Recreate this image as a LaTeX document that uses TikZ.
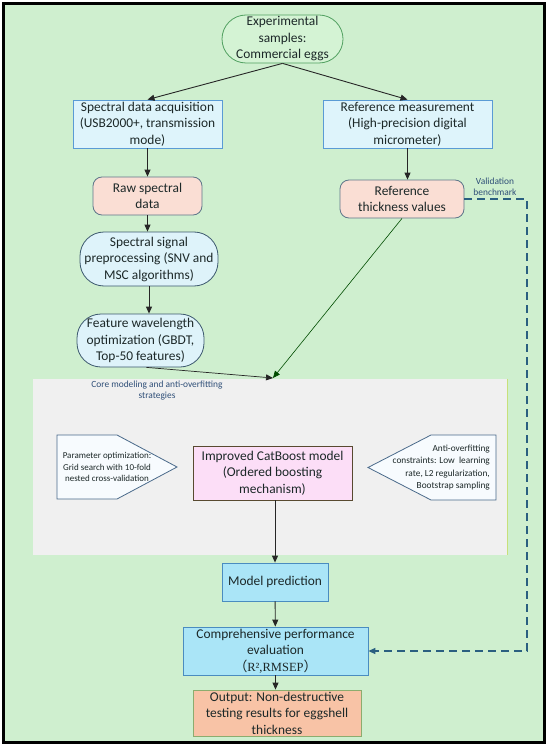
\documentclass[tikz,border=0pt]{standalone}
\usepackage{fontspec}
\setmainfont{Carlito}
\newfontfamily\serifx{Liberation Serif}
\newfontfamily\cjk{Noto Sans CJK SC}
\usepackage{xcolor}
\usepackage{tikz}
\usetikzlibrary{positioning,arrows.meta}
\definecolor{bggreen}{RGB}{207,239,207}
\definecolor{coregray}{RGB}{240,240,240}
\definecolor{textdark}{RGB}{28,40,40}
\definecolor{labelblue}{RGB}{47,79,120}
\definecolor{acqfill}{RGB}{222,244,251}
\definecolor{acqline}{RGB}{90,155,213}
\definecolor{rawfill}{RGB}{250,222,212}
\definecolor{rawline}{RGB}{94,118,138}
\definecolor{stadfill}{RGB}{222,243,250}
\definecolor{stadline}{RGB}{60,88,110}
\definecolor{samplefill}{RGB}{212,243,212}
\definecolor{sampleline}{RGB}{80,160,96}
\definecolor{catfill}{RGB}{252,222,247}
\definecolor{catline}{RGB}{88,74,48}
\definecolor{pentfill}{RGB}{247,251,254}
\definecolor{pentline}{RGB}{74,106,138}
\definecolor{predfill}{RGB}{170,229,247}
\definecolor{predline}{RGB}{74,140,192}
\definecolor{outfill}{RGB}{248,195,166}
\definecolor{outline}{RGB}{140,172,110}
\definecolor{edgeyellow}{RGB}{200,224,122}
\definecolor{validblue}{RGB}{42,95,128}

\begin{document}
\begin{tikzpicture}[x=1pt, y=-1pt,
  every node/.style={font=\fontsize{13.4}{16.5}\selectfont, text=textdark,
                     align=center, inner sep=0pt},
  acqbox/.style={rectangle, draw=acqline, fill=acqfill, line width=0.8pt,
                 minimum height=48pt},
  rawbox/.style={rectangle, draw=rawline, fill=rawfill, line width=0.8pt,
                 rounded corners=9pt, minimum height=38pt},
  stadium/.style={rectangle, draw=stadline, fill=stadfill, line width=0.8pt,
                  rounded corners=24pt},
  catbox/.style={rectangle, draw=catline, fill=catfill, line width=0.8pt,
                 minimum width=159pt, minimum height=54pt},
  predbox/.style={rectangle, draw=predline, fill=predfill, line width=0.8pt},
  outbox/.style={rectangle, draw=outline, fill=outfill, line width=0.8pt},
  pentagon/.style={draw=pentline, fill=pentfill, line width=0.8pt},
  smalltext/.style={font=\fontsize{9}{11.2}\selectfont},
  flow/.style={-{Triangle[length=7pt,width=6pt]}, line width=0.9pt, draw=black!85},
  valid/.style={-{Triangle[length=7pt,width=6pt]}, dashed, dash pattern=on 8pt off 5pt,
                line width=1.3pt, draw=validblue}
]
% page and outer frame
\fill[white] (0,0) rectangle (550,746);
\draw[line width=3pt, fill=bggreen] (3.5,3.5) rectangle (544,742);

% top of the chart
\node[stadium, draw=sampleline, fill=samplefill, minimum width=121pt,
      minimum height=48pt] (samples) at (282.5,39) {Experimental\\samples:\\Commercial eggs};
\node[acqbox, minimum width=149pt] (acq) at (147.5,124)
  {Spectral data acquisition\\(USB2000+, transmission\\mode)};
\node[acqbox, minimum width=169pt] (refm) at (407.5,124)
  {Reference measurement\\(High-precision digital\\micrometer)};
\node[rawbox, minimum width=109pt] (raw) at (147.5,196) {Raw spectral\\data};
\node[rawbox, minimum width=124pt] (refv) at (402,199) {Reference\\thickness values};
\node[stadium, minimum width=138pt, minimum height=54pt] (pre) at (149,259)
  {Spectral signal\\preprocessing (SNV and\\MSC algorithms)};
\node[stadium, minimum width=127pt, minimum height=53pt] (feat) at (140.5,340.5)
  {Feature wavelength\\optimization (GBDT,\\Top-50 features)};

% core modeling block
\node[rectangle, fill=coregray, minimum width=474pt, minimum height=176pt] (core) at (270,467) {};
\draw[edgeyellow, line width=0.9pt] (core.north east) -- (core.south east);
\node[font=\fontsize{9.4}{11.5}\selectfont, text=labelblue] (coretitle) at (157,390.5)
  {Core modeling and anti-overfitting\\strategies};
\draw[pentagon] (57,435) -- (117,435) -- (177,467) -- (117,499) -- (57,499) -- cycle;
\node[smalltext] (param) at (107,467)
  {Parameter optimization:\\Grid search with 10-fold\\nested cross-validation};
\draw[pentagon] (496,435) -- (431,435) -- (368,467.5) -- (431,500) -- (496,500) -- cycle;
\node[smalltext, font=\fontsize{9.3}{12.3}\selectfont, align=right, anchor=east] (anti) at (490,467.5)
  {Anti-overfitting\\constraints: Low\ \ learning\\rate, L2 regularization,\\Bootstrap sampling};
\node[catbox] (cat) at (272.5,473)
  {Improved CatBoost model\\(Ordered boosting\\mechanism)};

% bottom of the chart
\node[predbox, minimum width=106pt, minimum height=38pt] (pred) at (275,582) {Model prediction};
\node[predbox, minimum width=185pt, minimum height=48pt] (eval) at (275.5,651)
  {Comprehensive performance\\evaluation\\{\cjk （}{\serifx\fontsize{12.5}{16}\selectfont R²,RMSEP}{\cjk ）}};
\node[outbox, minimum width=168pt, minimum height=46pt] (out) at (277,713)
  {Output: Non-destructive\\testing results for eggshell\\thickness};

% connectors
\draw[flow] (samples.south) -- (acq.north);
\draw[flow] (samples.south) -- (refm.north);
\draw[flow] (acq) -- (raw);
\draw[flow] (refm) -- (refm |- refv.north);
\draw[flow] (raw.south) -- (raw.south |- pre.north);
\draw[flow] (pre.south) -- (pre.south |- feat.north);
\coordinate (merge) at (273,378);
\draw[flow, line width=0.7pt] ([xshift=6pt]feat.south) -- (merge);
\draw[flow, line width=0.6pt, draw=black!70!green] (refv.south) -- (merge);
\draw[flow] (pred.north |- cat.south) -- (pred.north);
\draw[flow] (pred) -- (eval);
\draw[flow] (eval.south) -- (eval.south |- out.north);

% validation loop
\coordinate (vbend) at (527,199);
\draw[valid] (refv.east) -- (vbend) |- (eval.east);
\node[font=\fontsize{9.4}{11}\selectfont, text=labelblue] (vlabel) at (495,186.5)
  {Validation\\benchmark};
\end{tikzpicture}
\end{document}
